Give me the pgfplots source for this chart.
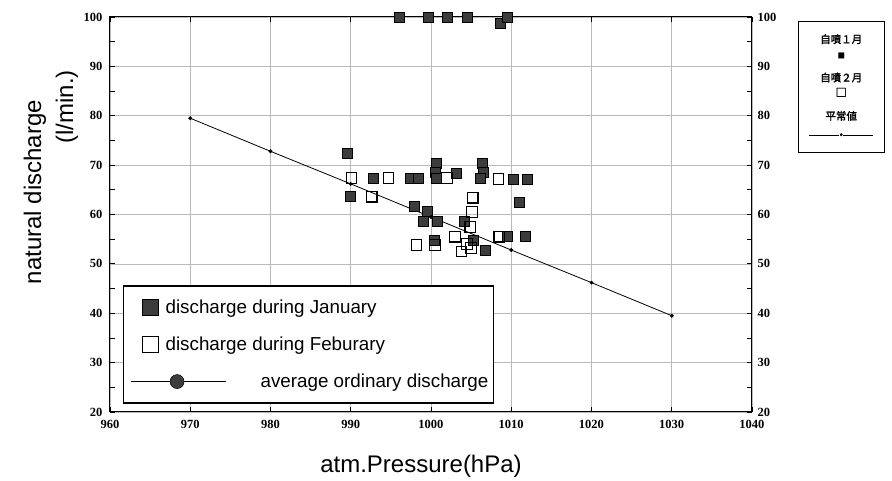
\documentclass[border=0pt]{standalone}
\usepackage{fontspec}
\setmainfont{Liberation Sans}
\newfontfamily\tickfont{Liberation Serif}
\newfontfamily\cjk{Noto Sans CJK JP}[FakeBold=2]
\usepackage{pgfplots}
\pgfplotsset{compat=1.18}
\definecolor{markgray}{HTML}{3C3C3C}

\pgfplotstableread{
x y
996.0 100
999.6 100
1002.0 100
1004.5 100
1008.6 98.7
1009.5 100
989.6 72.4
990.0 63.6
992.8 67.4
997.4 67.4
998.4 67.4
1000.7 70.3
1000.5 68.5
1000.6 67.3
1003.1 68.4
1006.4 70.3
1006.5 68.6
1006.1 67.3
1010.3 67.2
1012.0 67.2
1011.0 62.4
997.9 61.7
999.5 60.7
999.0 58.7
1000.8 58.7
1004.2 58.7
1000.4 54.8
1005.3 54.7
1006.8 52.7
1009.5 55.5
1011.8 55.5
}\jan

\pgfplotstableread{
x y
990.1 67.4
992.6 63.6
994.7 67.4
1002.0 67.4
1008.4 67.2
1005.2 63.4
1005.1 60.5
1004.9 57.5
998.2 53.8
1000.5 53.8
1003.0 55.5
1003.8 52.5
1004.5 54.0
1005.0 53.2
1008.5 55.5
}\feb

\pgfplotstableread{
x y
970 79.5
980 72.8
990 66.2
1000 59.5
1010 52.8
1020 46.2
1030 39.5
}\avg

\pgfplotsset{
  janleg/.style={legend image code/.code={
    \path[draw=none, fill=none] (-15pt,-8pt) rectangle (17pt,8pt);
    \draw[mark=square*, mark size=8pt, mark options={fill=markgray, draw=black, line width=0.5pt}] plot coordinates {(8.5pt,0pt)};}},
  febleg/.style={legend image code/.code={
    \path[draw=none, fill=none] (-15pt,-8pt) rectangle (17pt,8pt);
    \draw[mark=square, mark size=8pt, mark options={fill=white, draw=black, line width=0.8pt}] plot coordinates {(8.5pt,0pt)};}},
  avgleg/.style={legend image code/.code={
    \path[draw=none, fill=none] (-15pt,-8pt) rectangle (17pt,8pt);
    \draw[overlay, black, line width=1.2pt] (-10.5pt,0pt) -- (84.5pt,0pt);
    \fill[overlay, markgray, draw=black, line width=0.5pt] (35.5pt,0pt) circle (7pt);}},
  noleg/.style={legend image code/.code={}},
}

\begin{document}
\begin{tikzpicture}
\useasboundingbox (-110pt,-69pt) rectangle (782pt,412pt);
\begin{axis}[
  scale only axis, width=642pt, height=395pt,
  xmin=960, xmax=1040, ymin=20, ymax=100,
  xtick={960,970,...,1040}, ytick={20,30,...,100},
  minor y tick num=1,
  scaled ticks=false,
  /pgf/number format/1000 sep={},
  /pgf/number format/assume math mode=true,
  ticklabel style={font=\tickfont\bfseries\fontsize{12.5}{14}\selectfont},
  yticklabel style={xshift=-4pt},
  xticklabel style={yshift=-5pt},
  axis line style={line width=1pt},
  every tick/.style={black, line width=0.8pt},
  major tick length=5pt, minor tick length=5pt,
  grid=major, major grid style={gray!55, line width=0.5pt},
  legend style={at={(0.020,0.3215)}, anchor=north west, draw=black,
    line width=1.5pt, fill=white, font=\fontsize{18.8}{22}\selectfont,
    row sep=18pt, column sep=5pt, inner xsep=3pt, inner ysep=12pt},
  legend cell align=left,
]
\addplot[only marks, mark=square*, mark size=5pt,
  mark options={fill=markgray, draw=black, line width=0.5pt}, janleg]
  table[x=x,y=y] {\jan};
\addlegendentry{discharge during January}
\addplot[only marks, mark=square, mark size=5.3pt,
  mark options={fill=white, draw=black, line width=1.2pt}, febleg]
  table[x=x,y=y] {\feb};
\addlegendentry{discharge during Feburary}
\addplot[black, line width=0.8pt, mark=*, mark size=1.5pt, avgleg]
  table[x=x,y=y] {\avg};
\addlegendentry{\hspace*{95pt}average ordinary discharge}
\end{axis}

\begin{axis}[
  scale only axis, width=642pt, height=395pt,
  xmin=960, xmax=1040, ymin=20, ymax=100,
  xtick=\empty, ytick={20,30,...,100},
  yticklabel pos=right,
  axis line style={draw=none},
  every tick/.style={draw=none},
  /pgf/number format/assume math mode=true,
  ticklabel style={font=\tickfont\bfseries\fontsize{12.5}{14}\selectfont},
  yticklabel style={xshift=2pt},
  legend style={at={(1.0717,0.99)}, anchor=north west, draw=black,
    line width=0.8pt, font=\cjk\fontsize{10.5}{12}\selectfont,
    cells={align=center}, row sep=9pt, inner xsep=9pt, inner ysep=11pt},
  legend cell align=center,
]
\addlegendimage{noleg}
\addlegendentry{自噴１月\\[3pt]{\fontsize{7}{7}\selectfont ■}}
\addlegendimage{noleg}
\addlegendentry{自噴２月\\[3pt]{\fontsize{11}{11}\selectfont □}}
\addlegendimage{noleg}
\addlegendentry{平常値\\[6pt]\rule[2.4pt]{30pt}{0.6pt}\textbullet\rule[2.4pt]{30pt}{0.6pt}}
\end{axis}

\node[rotate=90, font=\fontsize{24}{28}\selectfont] at (-75pt,220pt) {natural discharge};
\node[rotate=90, font=\fontsize{24}{28}\selectfont] at (-43pt,305pt) {(l/min.)};
\node[font=\fontsize{24}{28}\selectfont] at (311pt,-54pt) {atm.Pressure(hPa)};
\end{tikzpicture}
\end{document}
